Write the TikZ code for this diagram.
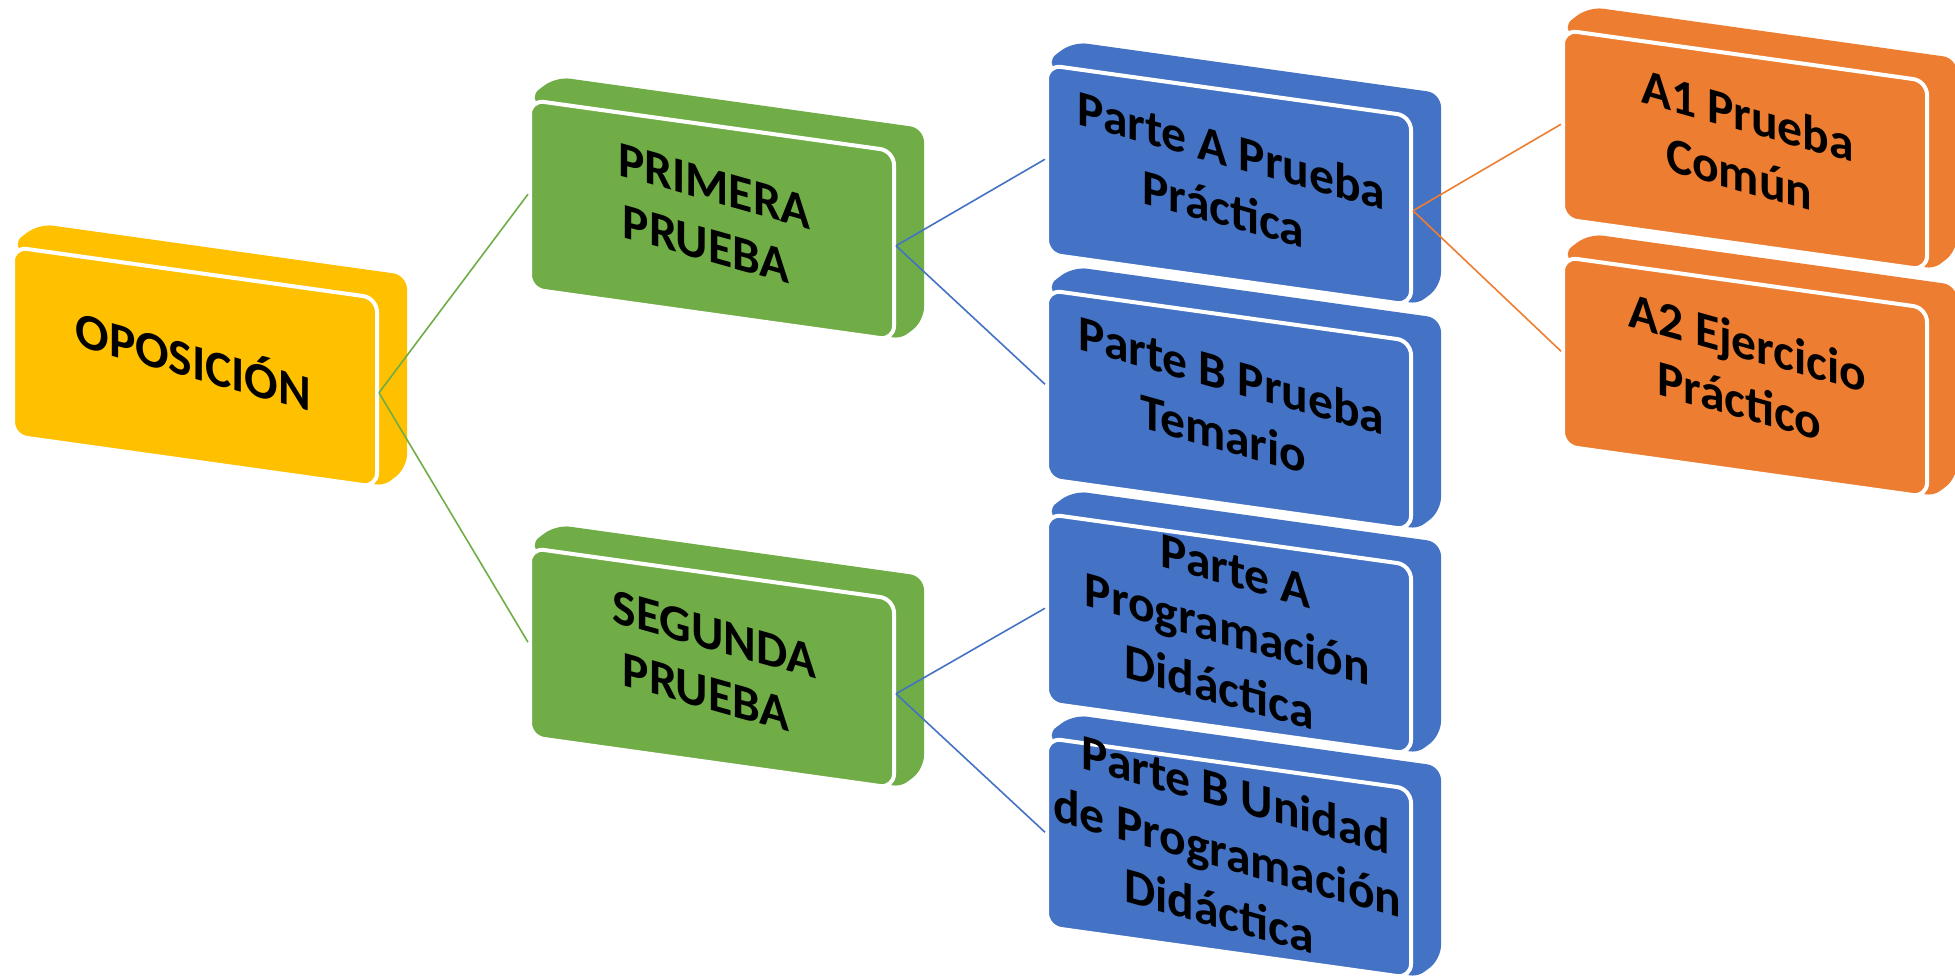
\documentclass[tikz,border=0pt]{standalone}
\usepackage{fontspec}
\setmainfont{Carlito}
\newfontfamily\letrero{Carlito Bold}[FakeSlant=-0.1373]
\usepackage{graphicx}
\usepackage{xcolor}
\definecolor{amarillo}{RGB}{255,192,0}
\definecolor{verde}{RGB}{112,173,71}
\definecolor{azul}{RGB}{68,114,196}
\definecolor{naranja}{RGB}{237,125,49}
\pgfdeclarelayer{fondo}
\pgfsetlayers{fondo,main}
\tikzset{
  caja/.style={rectangle, rounded corners=7pt, draw=white, line width=2pt, fill=#1, text=black,
    minimum width=182pt, minimum height=94.5pt, inner sep=0pt,
    font=\fontsize{25}{30}\selectfont, yslant=-0.14},
  enlace/.style={draw=#1, line width=0.8pt},
}
\newsavebox{\cajatexto}
\newcommand{\rotulo}[1]{\sbox{\cajatexto}{\rotatebox{-7.97}{\letrero\begin{tabular}{@{}c@{}}#1\end{tabular}}}%
  \makebox[0pt]{\smash{\raisebox{\dimexpr(\dp\cajatexto-\ht\cajatexto)/2\relax}{\usebox{\cajatexto}}}}}
\newcommand{\losa}[2]{%
  \begin{pgfonlayer}{fondo}
  \fill[#2, rounded corners=7pt] (#1.north west) -- ([shift={(28,-21)}]#1.north west) -- ([shift={(28,-21)}]#1.north east) -- ([shift={(28,-21)}]#1.south east) -- (#1.south east) -- cycle;
  \end{pgfonlayer}}

\begin{document}
\begin{tikzpicture}[x=0.5pt,y=0.5pt,yscale=-1,xscale=1]
\useasboundingbox (0,0) rectangle (1955,978);

\node [caja=amarillo] (opo) at (195,367) {\rotulo{OPOSICIÓN}};
\node [caja=verde] (pri) at (712,220) {\rotulo{PRIMERA\\PRUEBA}};
\node [caja=verde] (seg) at (712,668) {\rotulo{SEGUNDA\\PRUEBA}};
\node [caja=azul] (pa1) at (1229,185) {\rotulo{Parte A Prueba\\Práctica}};
\node [caja=azul] (pb1) at (1229,410) {\rotulo{Parte B Prueba\\Temario}};
\node [caja=azul] (pa2) at (1229,634) {\rotulo{Parte A\\Programación\\Didáctica}};
\node [caja=azul] (pb2) at (1229,858) {\rotulo{Parte B Unidad\\de Programación\\Didáctica}};
\node [caja=naranja] (a1) at (1745,150) {\rotulo{A1 Prueba\\Común}};
\node [caja=naranja] (a2) at (1745,377) {\rotulo{A2 Ejercicio\\Práctico}};

\losa{opo}{amarillo}
\losa{pri}{verde}
\losa{seg}{verde}
\losa{pa1}{azul}
\losa{pb1}{azul}
\losa{pa2}{azul}
\losa{pb2}{azul}
\losa{a1}{naranja}
\losa{a2}{naranja}

\draw [enlace=verde] (opo.east) -- (pri.west);
\draw [enlace=verde] (opo.east) -- (seg.west);
\draw [enlace=azul] (pri.east) -- (pa1.west);
\draw [enlace=azul] (pri.east) -- (pb1.west);
\draw [enlace=azul] (seg.east) -- (pa2.west);
\draw [enlace=azul] (seg.east) -- (pb2.west);
\draw [enlace=naranja] (pa1.east) -- (a1.west);
\draw [enlace=naranja] (pa1.east) -- (a2.west);

\end{tikzpicture}
\end{document}
